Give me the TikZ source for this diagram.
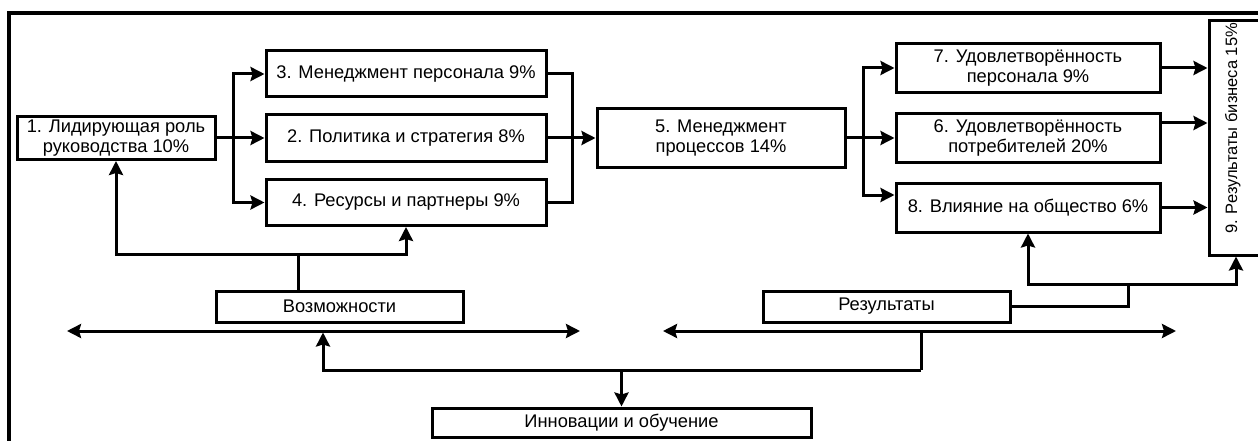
\documentclass[tikz,border=0pt]{standalone}
\usepackage{fontspec}
\setmainfont{Liberation Sans}
\usetikzlibrary{arrows.meta,calc}
\newcommand{\fs}{\fontsize{18.3pt}{20pt}\selectfont}
\newcommand{\fsv}{\fontsize{16.5pt}{20pt}\selectfont}
\begin{document}
\begin{tikzpicture}[x=1pt,y=-1pt,
  box/.style={draw,line width=3pt,fill=white,align=center,inner sep=0pt,font=\fs},
  conn/.style={line width=3pt},
  tip/.tip={Stealth[length=14pt,width=14pt,inset=2pt]},
  arr/.style={conn,-tip},
  darr/.style={conn,tip-tip}]
\useasboundingbox (0,0) rectangle (1258,441);
% frame
\draw[line width=4.5pt,line join=miter] (9,450) -- (9,13) -- (1270,13);
% boxes
\node[box,minimum width=198,minimum height=43] (b1) at (116,138) {1. Лидирующая роль\\руководства 10\%};
\node[box,minimum width=280,minimum height=46] (b3) at (406,74) {3. Менеджмент персонала 9\%};
\node[box,minimum width=280,minimum height=46] (b2) at (406,138) {2. Политика и стратегия 8\%};
\node[box,minimum width=280,minimum height=46] (b4) at (406,202.5) {4. Ресурсы и партнеры 9\%};
\node[box,minimum width=248,minimum height=58] (b5) at (721,138) {5. Менеджмент\\процессов 14\%};
\node[box,minimum width=264,minimum height=49] (b7) at (1028,68) {7. Удовлетворённость\\персонала 9\%};
\node[box,minimum width=264,minimum height=49] (b6) at (1028,138) {6. Удовлетворённость\\потребителей 20\%};
\node[box,minimum width=264,minimum height=49] (b8) at (1028,207.5) {8. Влияние на общество 6\%};
\node[box,font=\fsv,minimum width=60,minimum height=234] (b9) at (1239,138) {\rotatebox{90}{\rule[-16pt]{0pt}{16pt}\hspace{19pt}9. Результаты бизнеса 15\%}};
\node[box,minimum width=247,minimum height=31] (vozm) at (339.5,306.5) {Возможности};
\node[box,minimum width=247,minimum height=31] (rez) at (886.5,306.5) {Результаты};
\node[box,minimum width=379,minimum height=29] (inn) at (621.5,422.5) {Инновации и обучение};
% helper coordinates
\coordinate (lsplit) at (233,138);
\coordinate (ljoin) at (572,138);
\coordinate (rsplit) at (863,138);
\coordinate (y195) at (0,195);
\coordinate (y123) at (0,123);
\coordinate (vtop) at (298,254);
\coordinate (rj) at (1128,284);
\coordinate (x1236) at (1236,0);
\coordinate (la) at (67,331);
\coordinate (lb) at (580,331);
\coordinate (ra) at (663,331);
\coordinate (rb) at (1176,331);
\coordinate (bj) at (921,370);
\coordinate (lup) at (323,332.5);
% left part
\draw[arr] (b1.east) -- (b2.west);
\draw[arr] (lsplit) |- (b3.west);
\draw[arr] (lsplit) |- (b4.west);
\draw[conn] (b3.east) -| (ljoin) |- (b4.east);
\draw[arr] (b2.east) -- (b5.west);
% right part
\draw[arr] (b5.east) -- (b6.west);
\draw[arr] (rsplit) |- (b7.west);
\draw[arr] (rsplit) |- (b8.west |- y195);
\draw[arr] (b7.east) -- (b7.east -| b9.west);
\draw[arr] (b6.east |- y123) -- (b9.west |- y123);
\draw[arr] (b8.east) -- (b8.east -| b9.west);
% Возможности
\draw[conn] (vozm.north -| vtop) -- (vtop);
\draw[arr] (vtop) -| (b1.south);
\draw[arr] (vtop) -| (b4.south);
% Результаты
\draw[conn] (rez.east) -| (rj);
\draw[arr] (rj) -| (b8.south);
\draw[arr] (rj) -| (x1236 |- b9.south);
% double arrows
\draw[darr] (la) -- (lb);
\draw[darr] (ra) -- (rb);
% bottom
\draw[conn] (bj |- ra) -- (bj);
\draw[arr] (bj) -| (lup);
\draw[arr] (inn.north |- bj) -- (inn.north);
\end{tikzpicture}
\end{document}
